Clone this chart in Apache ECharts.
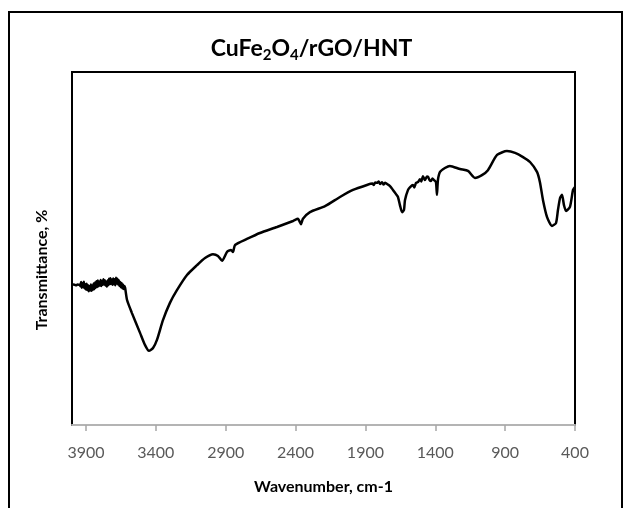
<!DOCTYPE html>
<html>
<head>
<meta charset="utf-8">
<script src="https://cdn.jsdelivr.net/npm/echarts@6/dist/echarts.min.js"></script>
<style>html,body{margin:0;padding:0;background:#fff;}#chart{width:623px;height:508px;}</style>
</head>
<body>
<div id="chart"></div>
<script>
// Wavenumber (cm-1) and transmittance (arbitrary %)
const wavenumbers = [4000,3990,3980,3970,3960,3950,3945,3940,3935,3930,3925,3920,3915,3910,3905,3900,3895,3890,3885,3880,3875,3870,3865,3860,3855,3850,3845,3840,3835,3830,3825,3820,3815,3810,3805,3800,3795,3790,3785,3780,3775,3770,3765,3760,3755,3750,3745,3740,3735,3730,3725,3720,3715,3710,3705,3700,3695,3690,3685,3680,3675,3670,3665,3660,3655,3650,3645,3640,3635,3630,3625,3620,
3606,3571,3513,3478,3449,3420,3392,3349,3299,3249,3177,3105,3048,2991,2955,2926,2891,2862,2848,2833,2748,2655,2533,2418,2383,2361,2347,2297,2189,2082,1989,1889,
1850,1840,1830,1817,1805,1795,1781,1770,1760,1746,1724,1703,1681,1667,1653,1638,1624,1617,1595,1580,1560,1550,1538,1524,1510,1500,1488,1474,1460,1452,1440,1431,1420,1409,1395,1388,1381,1366,1331,1295,1223,1166,1116,1066,1023,958,887,829,772,722,672,651,629,600,565,536,522,507,493,479,464,436,414,400];
const transmittance = [39.7,39.8,39.7,39.6,39.8,39.7,39.8,39.3,40.5,38.9,40.2,39.0,40.6,38.7,39.9,38.4,40.0,38.2,39.6,37.9,39.3,38.1,39.8,38.0,39.5,38.3,40.1,38.5,40.4,38.9,40.7,39.1,40.9,39.3,40.6,39.5,41.1,39.4,40.8,39.7,41.3,39.8,41.0,39.5,40.6,39.2,40.9,39.6,41.4,39.9,41.6,40.0,41.2,39.7,41.5,39.9,41.3,39.6,41.7,40.1,41.4,39.8,41.0,39.4,40.5,39.0,40.2,38.7,39.8,38.5,39.4,38.9,
35.4,31.7,26.1,22.7,21.0,21.8,24.1,29.7,34.6,38.2,42.5,45.3,47.3,48.4,47.9,46.5,49.0,49.6,49.0,51.0,52.7,54.4,56.1,57.8,58.4,56.9,58.4,60.3,62.0,64.6,66.6,68.0,
68.4,68.0,68.7,68.6,69.0,68.3,68.8,68.1,68.6,68.3,67.7,66.6,65.4,64.6,62.3,60.3,60.9,63.7,66.6,67.4,68.0,67.3,68.6,68.8,69.6,69.0,70.5,69.4,70.4,70.3,69.3,69.1,69.8,69.4,68.8,65.2,69.4,71.7,72.8,73.4,72.5,72.0,70.0,70.8,72.2,76.5,77.6,77.1,75.9,74.5,71.7,68.8,63.7,58.9,56.4,57.2,60.9,64.3,65.2,62.3,60.6,61.8,66.6,67.4];
const xTicks = [3900,3400,2900,2400,1900,1400,900,400];

const data = wavenumbers.map((w, i) => [w, transmittance[i]]);
const chart = echarts.init(document.getElementById('chart'), null, {renderer: 'canvas'});
chart.setOption({
  backgroundColor: '#ffffff',
  animation: false,
  title: {
    text: '{a|CuFe}{s|2}{a|O}{s|4}{a|/rGO/HNT}',
    left: 'center',
    top: 30,
    textStyle: {
      rich: {
        a: {fontFamily: 'Lato', fontWeight: 'bold', fontSize: 23, color: '#000'},
        s: {fontFamily: 'Lato', fontWeight: 'bold', fontSize: 15, color: '#000', verticalAlign: 'bottom', padding: [13, 0, 0, 0]}
      }
    }
  },
  graphic: [{
    type: 'polyline',
    shape: {points: [[9, 520], [9, 12], [622, 12], [622, 520]]},
    style: {stroke: '#000', lineWidth: 2, fill: null},
    silent: true
  }, {
    type: 'text',
    x: 42,
    y: 270,
    rotation: Math.PI / 2,
    style: {text: 'Transmittance, %', fontFamily: 'Lato', fontWeight: 'bold', fontSize: 16, fill: '#000', align: 'center', verticalAlign: 'middle'},
    silent: true
  }],
  grid: {left: 72, right: 48, top: 72, bottom: 83, show: true, borderColor: '#000', borderWidth: 2, backgroundColor: 'transparent'},
  xAxis: {
    type: 'value',
    inverse: true,
    min: 400,
    max: 4000,
    name: 'Wavenumber, cm-1',
    nameLocation: 'middle',
    nameGap: 54,
    nameTextStyle: {fontFamily: 'Lato', fontWeight: 'bold', fontSize: 16, color: '#000'},
    axisLine: {show: true, lineStyle: {color: '#b4b4b4', width: 2}},
    axisTick: {show: true, length: 6, lineStyle: {color: '#a6a6a6', width: 1.5}, customValues: xTicks},
    axisLabel: {show: true, customValues: xTicks, fontFamily: 'Lato', fontSize: 16, color: '#595959', margin: 20, formatter: v => String(v)},
    splitLine: {show: false}
  },
  yAxis: {
    type: 'value',
    min: 0,
    max: 100,
    axisLine: {show: false},
    axisTick: {show: false},
    axisLabel: {show: false},
    splitLine: {show: false}
  },
  series: [{
    type: 'line',
    data: data,
    showSymbol: false,
    smooth: 0.2,
    lineStyle: {color: '#000', width: 2.5},
    clip: true
  }]
});
</script>
</body>
</html>
